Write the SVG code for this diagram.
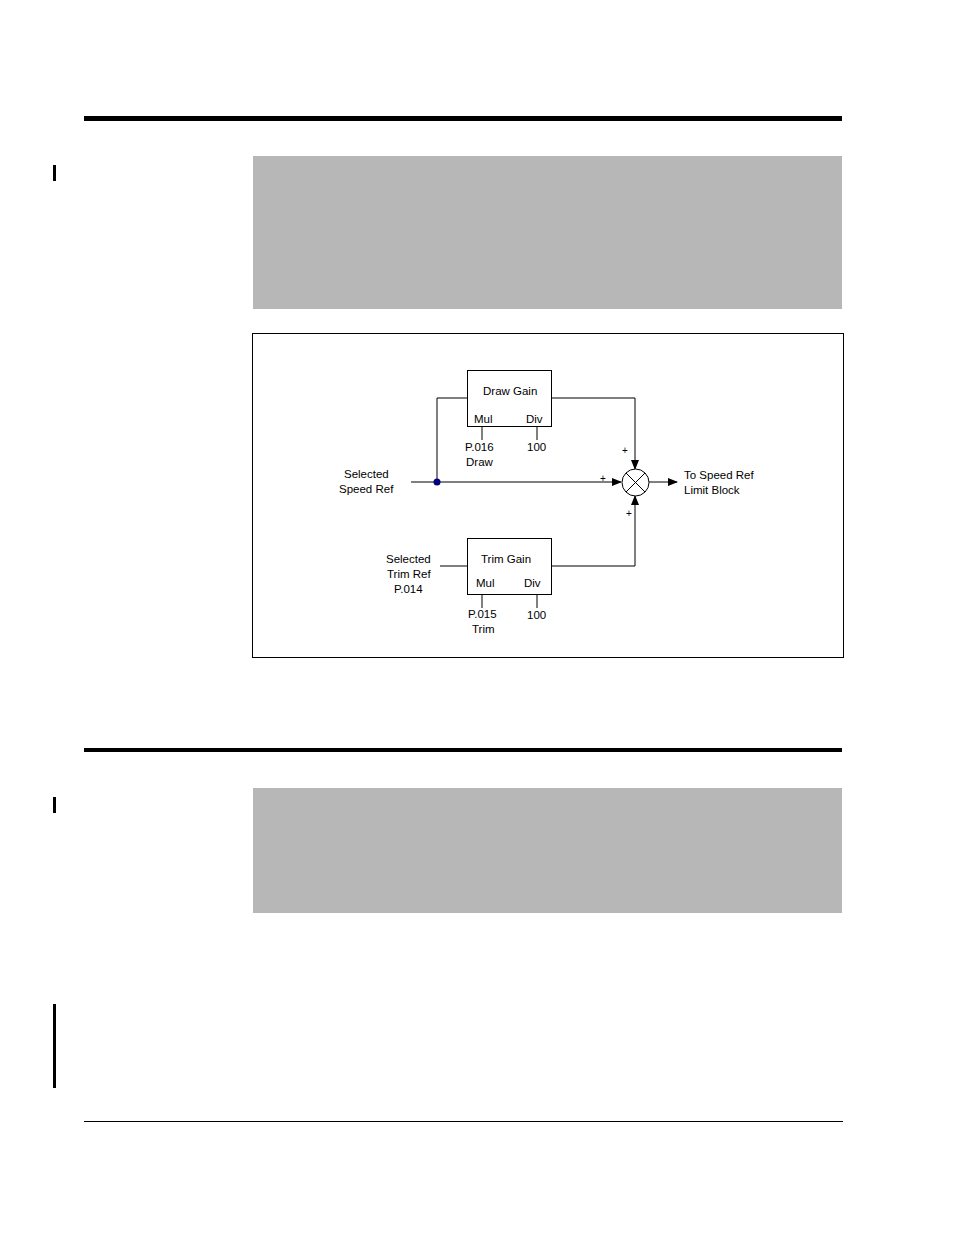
<svg xmlns="http://www.w3.org/2000/svg" width="954" height="1235" viewBox="0 0 954 1235">
<style>
text{font-family:"Liberation Sans",Arial,sans-serif;font-size:11.5px;fill:#000}
.l{stroke:#000;stroke-width:1;fill:none}
.b{fill:#fff;stroke:#000;stroke-width:1}
</style>
<defs><marker id="a" markerWidth="10" markerHeight="8" refX="9" refY="4" orient="auto" markerUnits="userSpaceOnUse"><path d="M0,0L10,4L0,8z" fill="#000"/></marker></defs>
<rect width="954" height="1235" fill="#fff"/>
<rect x="84" y="116" width="758" height="5" fill="#000"/>
<rect x="53" y="165" width="3" height="16" fill="#000"/>
<rect x="253" y="156" width="589" height="153" fill="#b7b7b7"/>
<rect x="252.5" y="333.5" width="591" height="324" fill="none" stroke="#000"/>
<rect x="84" y="748" width="758" height="4" fill="#000"/>
<rect x="53" y="797" width="3" height="16" fill="#000"/>
<rect x="253" y="788" width="589" height="125" fill="#b7b7b7"/>
<rect x="53" y="1004" width="3" height="84" fill="#000"/>
<rect x="84" y="1121" width="759" height="1" fill="#000"/>
<g id="connectors">
<path class="l" d="M411,482H621" marker-end="url(#a)"/>
<path class="l" d="M437,482V398H467"/>
<path class="l" d="M551,398H635V469" marker-end="url(#a)"/>
<path class="l" d="M551,566H635V496" marker-end="url(#a)"/>
<path class="l" d="M440,566H467"/>
<path class="l" d="M649,482H677" marker-end="url(#a)"/>
<path class="l" d="M482,426V440M537,426V440M482,594V608M537,594V608"/>
<circle cx="437" cy="482" r="3.5" fill="#000080"/>
</g>
<g id="draw"><rect class="b" x="467.5" y="370.5" width="84" height="56"/>
<text x="483" y="395">Draw Gain</text><text x="474" y="423">Mul</text><text x="526" y="423">Div</text></g>
<g id="trim"><rect class="b" x="467.5" y="538.5" width="84" height="56"/>
<text x="481" y="563">Trim Gain</text><text x="476" y="587">Mul</text><text x="524" y="587">Div</text></g>
<g id="sum"><circle cx="635.5" cy="482.5" r="13.5" class="b"/><path class="l" d="M626,473L645,492M645,473L626,492"/></g>
<g id="labels">
<text x="465" y="451">P.016</text><text x="466" y="466">Draw</text><text x="527" y="451">100</text>
<text x="468" y="618">P.015</text><text x="472" y="633">Trim</text><text x="527" y="619">100</text>
<text x="344" y="478">Selected</text><text x="339" y="493">Speed Ref</text>
<text x="386" y="563">Selected</text><text x="387" y="578">Trim Ref</text><text x="394" y="593">P.014</text>
<text x="684" y="479">To Speed Ref</text><text x="684" y="494">Limit Block</text>
<text x="622" y="454" style="font-size:10px">+</text><text x="600" y="482" style="font-size:10px">+</text><text x="626" y="517" style="font-size:10px">+</text>
</g>
</svg>
